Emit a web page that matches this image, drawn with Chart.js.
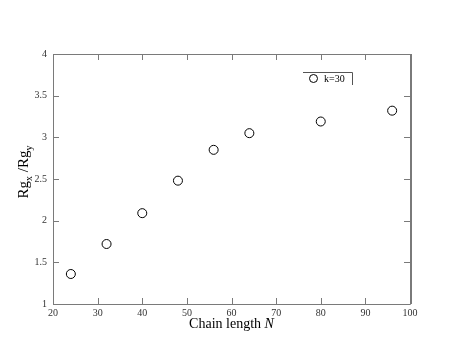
<!DOCTYPE html>
<html>
<head>
<meta charset="utf-8">
<script src="https://cdn.jsdelivr.net/npm/chart.js@4.4.1/dist/chart.umd.min.js"></script>
<style>
html,body{margin:0;padding:0;background:#fff;}
#wrap{width:463px;height:358px;position:relative;}
</style>
</head>
<body>
<div id="wrap"><canvas id="c" width="463" height="358"></canvas></div>
<script>
const chainLength = [24, 32, 40, 48, 56, 64, 80, 96];
const ratio = [1.36, 1.72, 2.09, 2.48, 2.85, 3.05, 3.19, 3.32];
const seriesLabel = 'k=30';
const xTicks = [20, 30, 40, 50, 60, 70, 80, 90, 100];
const yTicks = [1, 1.5, 2, 2.5, 3, 3.5, 4];

const AXIS = '#7a7a7a';
const FONT = '"Liberation Serif", "Times New Roman", serif';

const frame = {
  id: 'frame',
  afterDraw(chart) {
    const ctx = chart.ctx;
    const a = chart.chartArea;
    const xs = chart.scales.x, ys = chart.scales.y;
    ctx.save();
    ctx.strokeStyle = AXIS;
    ctx.lineWidth = 1;
    ctx.beginPath();
    ctx.rect(Math.round(a.left) + 0.5, Math.round(a.top) + 0.5, Math.round(a.right - a.left), Math.round(a.bottom - a.top));
    ctx.stroke();
    ctx.lineWidth = 2;
    ctx.beginPath();
    ctx.moveTo(Math.round(a.right) + 1, a.top);
    ctx.lineTo(Math.round(a.right) + 1, a.bottom);
    ctx.stroke();
    ctx.lineWidth = 1;
    const L = 6;
    ctx.beginPath();
    xTicks.forEach(v => {
      const px = Math.round(xs.getPixelForValue(v)) + 0.5;
      ctx.moveTo(px, a.bottom); ctx.lineTo(px, a.bottom - L);
      ctx.moveTo(px, a.top); ctx.lineTo(px, a.top + L);
    });
    yTicks.forEach(v => {
      const py = Math.round(ys.getPixelForValue(v)) + 0.5;
      ctx.moveTo(a.left, py); ctx.lineTo(a.left + L, py);
      ctx.moveTo(a.right, py); ctx.lineTo(a.right - L, py);
    });
    ctx.stroke();

    ctx.fillStyle = '#000';
    ctx.textBaseline = 'alphabetic';
    const t1 = 'Chain length ';
    ctx.font = '14px ' + FONT;
    const w1 = ctx.measureText(t1).width;
    ctx.font = 'italic 14px ' + FONT;
    const w2 = ctx.measureText('N').width;
    const cx = (a.left + a.right) / 2;
    let sx = cx - (w1 + w2) / 2;
    ctx.textAlign = 'left';
    ctx.font = '14px ' + FONT;
    ctx.fillText(t1, sx, 328);
    ctx.font = 'italic 14px ' + FONT;
    ctx.fillText('N', sx + w1, 328);

    ctx.save();
    ctx.translate(28, 172);
    ctx.rotate(-Math.PI / 2);
    const parts = [['Rg', 0, 15], ['x', 4, 10], [' /Rg', 0, 15], ['y', 4, 10]];
    let tw = 0;
    parts.forEach(p => { ctx.font = p[2] + 'px ' + FONT; tw += ctx.measureText(p[0]).width; });
    let px0 = -tw / 2;
    parts.forEach(p => {
      ctx.font = p[2] + 'px ' + FONT;
      ctx.fillText(p[0], px0, p[1]);
      px0 += ctx.measureText(p[0]).width;
    });
    ctx.restore();

    const lx0 = 303, lx1 = 352, ly0 = 72, ly1 = 85;
    ctx.strokeStyle = '#555';
    ctx.beginPath();
    ctx.moveTo(lx0, ly0 + 0.5); ctx.lineTo(lx1 + 0.5, ly0 + 0.5); ctx.lineTo(lx1 + 0.5, ly1);
    ctx.stroke();
    ctx.strokeStyle = '#000';
    ctx.beginPath();
    ctx.arc(313.5, 78.5, 4, 0, Math.PI * 2);
    ctx.stroke();
    ctx.font = '10px ' + FONT;
    ctx.textAlign = 'left';
    ctx.textBaseline = 'middle';
    ctx.fillText(seriesLabel, 324, 79);
    ctx.restore();
  }
};

new Chart(document.getElementById('c'), {
  type: 'scatter',
  data: {
    datasets: [{
      label: seriesLabel,
      data: chainLength.map((n, i) => ({ x: n, y: ratio[i] })),
      pointStyle: 'circle',
      pointRadius: 4.5,
      pointBorderWidth: 1,
      pointBorderColor: '#000',
      pointBackgroundColor: 'rgba(0,0,0,0)',
      showLine: false
    }]
  },
  options: {
    responsive: false,
    animation: false,
    devicePixelRatio: 1,
    layout: { padding: { left: 0, right: 53, top: 54, bottom: 0 } },
    plugins: { legend: { display: false }, tooltip: { enabled: false } },
    scales: {
      x: {
        type: 'linear', min: 20, max: 100,
        afterFit(s) { s.height = 54; },
        afterBuildTicks(s) { s.ticks = xTicks.map(v => ({ value: v })); },
        grid: { display: false, drawTicks: false },
        border: { display: false },
        ticks: { color: '#333', font: { family: FONT, size: 10 }, padding: 3, maxRotation: 0 }
      },
      y: {
        type: 'linear', min: 1, max: 4,
        afterFit(s) { s.width = 53; },
        afterBuildTicks(s) { s.ticks = yTicks.map(v => ({ value: v })); },
        grid: { display: false, drawTicks: false },
        border: { display: false },
        ticks: { color: '#333', font: { family: FONT, size: 10 }, padding: 6, callback: v => String(v) }
      }
    }
  },
  plugins: [frame]
});
</script>
</body>
</html>
